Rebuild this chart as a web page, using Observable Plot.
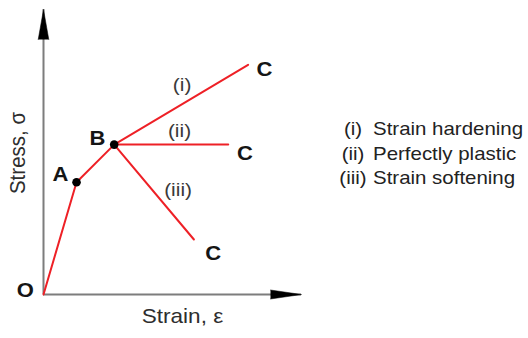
<!DOCTYPE html>
<html>
<head>
<meta charset="utf-8">
<script src="https://cdn.jsdelivr.net/npm/d3@7"></script>
<script src="https://cdn.jsdelivr.net/npm/@observablehq/plot@0.6"></script>
<style>
  html, body { margin: 0; padding: 0; background: #fff; overflow: hidden; }
  #figure { position: relative; width: 528px; height: 338px; }
  #figure svg { display: block; }
  #legend {
    position: absolute; left: 333px; top: 117px;
    font-family: "Liberation Sans", Arial, sans-serif;
    font-size: 18.6px; line-height: 24.5px; color: #222; white-space: nowrap;
  }
  #legend .row { display: flex; }
  #legend .tag { width: 40px; text-align: center; transform: scaleX(1.1); }
  #legend .desc { transform: scaleX(1.1); transform-origin: left center; }
</style>
</head>
<body>
<div id="figure"><div id="legend"></div></div>
<script>
// Idealised stress–strain curve: elastic O–A, yielding A–B, then three post-yield branches B–C.
const pointNames = ["O", "A", "B"];
const pointStrain = [0, 1.28, 2.74];
const pointStress = [0, 3.94, 5.26];

const branchTags = ["(i)", "(ii)", "(iii)"];
const branchNames = ["Strain hardening", "Perfectly plastic", "Strain softening"];
const branchEndStrain = [7.93, 7.16, 5.83];
const branchEndStress = [8.06, 5.26, 1.93];
const branchEndName = "C";

const strainMax = 10;
const stressMax = 10;
const xTitle = "Strain, \u03b5";
const yTitle = "Stress, \u03c3";

// Tables built from the arrays above
const points = pointNames.map((name, i) => ({name, strain: pointStrain[i], stress: pointStress[i]}));
const yieldPoint = points[points.length - 1];
const ends = branchTags.map((tag, i) => ({tag, name: branchEndName, strain: branchEndStrain[i], stress: branchEndStress[i]}));

// O–A–B continues into branch (i); branches (ii) and (iii) start at B
const curve = [
  ...points.map(p => ({branch: ends[0].tag, strain: p.strain, stress: p.stress})),
  {branch: ends[0].tag, strain: ends[0].strain, stress: ends[0].stress},
  ...ends.slice(1).flatMap(e => [
    {branch: e.tag, strain: yieldPoint.strain, stress: yieldPoint.stress},
    {branch: e.tag, strain: e.strain, stress: e.stress}
  ])
];
const branchMids = ends.map(e => ({
  tag: e.tag,
  strain: (yieldPoint.strain + e.strain) / 2,
  stress: (yieldPoint.stress + e.stress) / 2
}));

// Label placement (pixel offsets from the anchor point)
const pointLabelOffset = {O: [-18.3, -4.4], A: [-16, -8.1], B: [-16.7, -6.2]};
const endLabelOffset = [[16.3, 4.5], [16.8, 9.5], [19.2, 14.3]];
const tagLabelOffset = [[1, -19.3], [8.3, -13.4], [24, -2.6]];

const font = "Liberation Sans, Arial, sans-serif";
const red = "#ee2026";
const axisGray = "#7d7d7d";
const boldLabel = {fontFamily: font, fontSize: 20, fontWeight: "bold", fill: "#151515", textAnchor: "middle"};
const tagLabel = {fontFamily: font, fontSize: 19, fill: "#3a3a3a", textAnchor: "middle"};

const chart = Plot.plot({
  width: 330,
  height: 338,
  marginLeft: 43,
  marginRight: 29,
  marginTop: 9,
  marginBottom: 44,
  x: {domain: [0, strainMax], axis: null},
  y: {domain: [0, stressMax], axis: null},
  style: {fontFamily: font, background: "#fff", overflow: "visible"},
  marks: [
    // axes with filled arrowheads
    Plot.ruleY([0], {x1: 0, x2: strainMax, stroke: axisGray, strokeWidth: 2}),
    Plot.ruleX([0], {y1: 0, y2: stressMax, stroke: axisGray, strokeWidth: 2}),
    Plot.vector([0], {x: 0, y: stressMax, rotate: 0, length: 30, r: 5.3, shape: "spike", anchor: "end", fill: "#000", stroke: "#000", strokeWidth: 0.5}),
    Plot.vector([0], {x: strainMax, y: 0, rotate: 90, length: 31, r: 4.5, shape: "spike", anchor: "end", fill: "#000", stroke: "#000", strokeWidth: 0.5}),

    // stress–strain branches
    Plot.line(curve, {x: "strain", y: "stress", z: "branch", stroke: red, strokeWidth: 2, strokeLinejoin: "round"}),
    Plot.dot(points.slice(1), {x: "strain", y: "stress", r: 4.3, fill: "#000"}),

    // point labels O, A, B
    ...points.map(p => Plot.text([p], {
      x: "strain", y: "stress", text: "name",
      dx: pointLabelOffset[p.name][0], dy: pointLabelOffset[p.name][1], ...boldLabel
    })),
    // end labels C
    ...ends.map((e, i) => Plot.text([e], {
      x: "strain", y: "stress", text: "name",
      dx: endLabelOffset[i][0], dy: endLabelOffset[i][1], ...boldLabel
    })),
    // branch tags (i), (ii), (iii)
    ...branchMids.map((m, i) => Plot.text([m], {
      x: "strain", y: "stress", text: "tag",
      dx: tagLabelOffset[i][0], dy: tagLabelOffset[i][1], ...tagLabel
    })),

    // axis titles
    Plot.text([yTitle], {frameAnchor: "left", rotate: -90, dx: -26.2, dy: 1, fontFamily: font, fontSize: 20.5, fill: "#2e2e2e", textAnchor: "middle"}),
    Plot.text([xTitle], {frameAnchor: "bottom", dx: 10, dy: 28.1, fontFamily: font, fontSize: 20.5, fill: "#2e2e2e", textAnchor: "middle"})
  ]
});

// Slightly widen the lettering
chart.querySelectorAll("text").forEach(t => {
  const tr = t.getAttribute("transform") || "";
  if (!tr.includes("translate")) return;
  t.setAttribute("transform", tr + (tr.includes("rotate") ? " scale(1,1.1)" : " scale(1.1,1)"));
});

const figure = document.getElementById("figure");
figure.insertBefore(chart, figure.firstChild);

// Legend: branch tag and its name
const legend = d3.select("#legend");
branchTags.forEach((tag, i) => {
  const row = legend.append("div").attr("class", "row");
  row.append("span").attr("class", "tag").text(tag);
  row.append("span").attr("class", "desc").text(branchNames[i]);
});
</script>
</body>
</html>
